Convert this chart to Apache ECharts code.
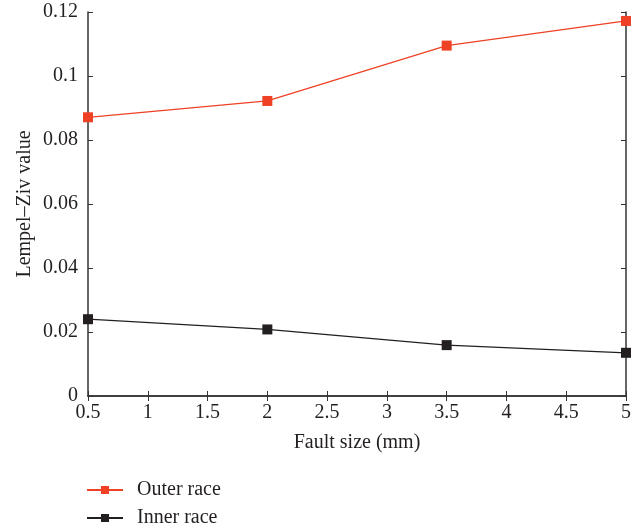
<!DOCTYPE html>
<html>
<head>
<meta charset="utf-8">
<script src="https://cdn.jsdelivr.net/npm/echarts@6/dist/echarts.min.js"></script>
<style>
  html, body { margin: 0; padding: 0; background: #fff; }
  #chart { width: 643px; height: 531px; }
</style>
</head>
<body>
<div id="chart"></div>
<script>
// fault sizes (mm)
var faultSize = [0.5, 2, 3.5, 5];
var outerRace = [0.0871, 0.0922, 0.1095, 0.1172];
var innerRace = [0.0240, 0.0208, 0.0159, 0.0135];
var seriesNames = ['Outer race', 'Inner race'];

var font = 'Liberation Serif';
var axisColor = '#333';
var textColor = '#231f20';
var fs = 20;

function pairs(xs, ys) {
  return xs.map(function (x, i) { return [x, ys[i]]; });
}

var chart = echarts.init(document.getElementById('chart'));
var option = {
  backgroundColor: '#ffffff',
  animation: false,
  textStyle: { fontFamily: font },
  grid: { left: 88, right: 17, top: 12, bottom: 135, containLabel: false, outerBoundsMode: 'none' },
  legend: {
    orient: 'vertical',
    left: 86,
    top: 480,
    height: 60,
    padding: 0,
    itemWidth: 36,
    itemHeight: 10,
    itemGap: 8,
    data: seriesNames,
    textStyle: { fontFamily: font, fontSize: fs, color: textColor, padding: [0, 0, 0, 9] }
  },
  xAxis: [{
    type: 'value',
    min: 0.5,
    max: 5,
    interval: 0.5,
    name: 'Fault size (mm)',
    nameLocation: 'middle',
    nameGap: 37,
    nameMoveOverlap: false,
    nameTextStyle: { fontFamily: font, fontSize: fs, color: textColor },
    axisLine: { lineStyle: { color: axisColor, width: 1.5 } },
    axisTick: { inside: true, length: 5, lineStyle: { color: axisColor } },
    axisLabel: { fontFamily: font, fontSize: fs, color: textColor, margin: 7 },
    splitLine: { show: false }
  }, {
    type: 'value',
    position: 'top',
    min: 0.5,
    max: 5,
    interval: 0.5,
    axisLine: { lineStyle: { color: axisColor, width: 1.5 } },
    axisTick: { inside: true, length: 5, lineStyle: { color: axisColor } },
    axisLabel: { show: false },
    splitLine: { show: false }
  }],
  yAxis: [{
    type: 'value',
    min: 0,
    max: 0.12,
    interval: 0.02,
    name: 'Lempel–Ziv value',
    nameLocation: 'middle',
    nameGap: 53,
    nameMoveOverlap: false,
    nameTextStyle: { fontFamily: font, fontSize: fs, color: textColor },
    axisLine: { show: true, lineStyle: { color: axisColor, width: 1.5 } },
    axisTick: { show: true, inside: true, length: 5, lineStyle: { color: axisColor } },
    axisLabel: { fontFamily: font, fontSize: fs, color: textColor, margin: 10 },
    splitLine: { show: false }
  }, {
    type: 'value',
    position: 'right',
    min: 0,
    max: 0.12,
    interval: 0.02,
    axisLine: { show: true, lineStyle: { color: axisColor, width: 1.5 } },
    axisTick: { show: true, inside: true, length: 5, lineStyle: { color: axisColor } },
    axisLabel: { show: false },
    splitLine: { show: false }
  }],
  series: [{
    name: seriesNames[0],
    type: 'line',
    data: pairs(faultSize, outerRace),
    symbol: 'rect',
    symbolSize: 10,
    color: '#ee4125',
    lineStyle: { width: 1.3 },
    z: 3
  }, {
    name: seriesNames[1],
    type: 'line',
    data: pairs(faultSize, innerRace),
    symbol: 'rect',
    symbolSize: 10,
    color: '#231f20',
    lineStyle: { width: 1.3 },
    z: 3
  }]
};
chart.setOption(option);
</script>
</body>
</html>
